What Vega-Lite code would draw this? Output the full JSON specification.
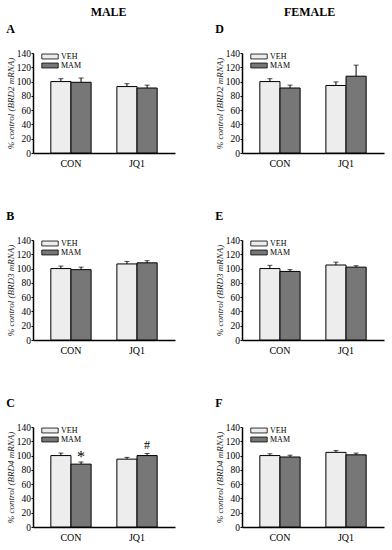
{
  "$schema": "https://vega.github.io/schema/vega-lite/v6.json",
  "padding": {"left": 6, "top": 6, "right": 2, "bottom": 2},
  "datasets": {
    "bars": [
      {"panel": "A", "group": "CON", "treat": "VEH", "value": 100, "hi": 104},
      {"panel": "A", "group": "CON", "treat": "MAM", "value": 99, "hi": 105},
      {"panel": "A", "group": "JQ1", "treat": "VEH", "value": 93, "hi": 97},
      {"panel": "A", "group": "JQ1", "treat": "MAM", "value": 91, "hi": 95},
      {"panel": "B", "group": "CON", "treat": "VEH", "value": 100, "hi": 103.5},
      {"panel": "B", "group": "CON", "treat": "MAM", "value": 98.5, "hi": 102},
      {"panel": "B", "group": "JQ1", "treat": "VEH", "value": 106.5, "hi": 110},
      {"panel": "B", "group": "JQ1", "treat": "MAM", "value": 108, "hi": 111},
      {"panel": "C", "group": "CON", "treat": "VEH", "value": 100, "hi": 103.5},
      {"panel": "C", "group": "CON", "treat": "MAM", "value": 88, "hi": 91},
      {"panel": "C", "group": "JQ1", "treat": "VEH", "value": 95, "hi": 97.5},
      {"panel": "C", "group": "JQ1", "treat": "MAM", "value": 100, "hi": 103},
      {"panel": "D", "group": "CON", "treat": "VEH", "value": 100, "hi": 104},
      {"panel": "D", "group": "CON", "treat": "MAM", "value": 91, "hi": 95},
      {"panel": "D", "group": "JQ1", "treat": "VEH", "value": 94.5, "hi": 99.5},
      {"panel": "D", "group": "JQ1", "treat": "MAM", "value": 107.5, "hi": 123},
      {"panel": "E", "group": "CON", "treat": "VEH", "value": 100, "hi": 104.5},
      {"panel": "E", "group": "CON", "treat": "MAM", "value": 96, "hi": 98.5},
      {"panel": "E", "group": "JQ1", "treat": "VEH", "value": 105, "hi": 109},
      {"panel": "E", "group": "JQ1", "treat": "MAM", "value": 102, "hi": 104},
      {"panel": "F", "group": "CON", "treat": "VEH", "value": 100, "hi": 102.5},
      {"panel": "F", "group": "CON", "treat": "MAM", "value": 98, "hi": 100.5},
      {"panel": "F", "group": "JQ1", "treat": "VEH", "value": 104.5, "hi": 107},
      {"panel": "F", "group": "JQ1", "treat": "MAM", "value": 101, "hi": 103.5}
    ],
    "sig": [
      {"panel": "C", "group": "CON", "treat": "MAM", "hi": 91, "label": "*"},
      {"panel": "C", "group": "JQ1", "treat": "MAM", "hi": 103, "label": "#"}
    ]
  },
  "config": {
    "font": "Liberation Serif",
    "view": {"stroke": null},
    "title": {"fontSize": 12, "fontWeight": "bold", "color": "black"},
    "axis": {"labelFont": "Liberation Serif", "titleFont": "Liberation Serif", "labelColor": "black", "domainColor": "black", "tickColor": "black", "grid": false, "domainWidth": 1.5},
    "axisY": {"tickSize": 2, "labelFontSize": 9.5, "labelPadding": 0.5, "titleFontSize": 9, "titleFontStyle": "italic", "titleFontWeight": "normal", "titleColor": "#222", "titlePadding": 1, "labelOverlap": false},
    "axisX": {"title": null, "labelAngle": 0, "ticks": false, "labelFontSize": 10, "labelPadding": 5},
    "legend": {"labelFont": "Liberation Serif", "title": null, "orient": "none", "legendX": 13, "legendY": -0.5, "symbolType": "M-3,-0.9H3V0.9H-3Z", "symbolSize": 30, "symbolStrokeColor": "black", "symbolStrokeWidth": 0.8, "labelFontSize": 8, "labelOffset": 7, "rowPadding": -2},
    "concat": {"spacing": 40}
  },
  "hconcat": [
    {
      "title": {"text": "MALE", "anchor": "middle", "dx": 18, "offset": 4},
      "spacing": 42,
      "resolve": {"legend": {"fill": "independent"}},
      "vconcat": [
        {
          "title": {"text": "A", "anchor": "start", "offset": 12},
          "width": 142, "height": 100,
          "data": {"name": "bars"},
          "transform": [{"filter": "datum.panel === 'A'"}],
          "encoding": {
            "x": {"field": "group", "type": "nominal", "scale": {"paddingInner": 0.39, "paddingOuter": 0.27}},
            "xOffset": {"field": "treat", "type": "nominal", "sort": ["VEH", "MAM"], "scale": {"paddingInner": 0, "paddingOuter": 0}},
            "y": {"field": "value", "type": "quantitative", "scale": {"domain": [0, 140], "nice": false}, "axis": {"title": "% control (BRD2 mRNA)", "values": [0, 20, 40, 60, 80, 100, 120, 140], "labelOverlap": false}}
          },
          "layer": [
            {"mark": {"type": "bar", "stroke": "black", "strokeWidth": 1},
             "encoding": {"fill": {"field": "treat", "type": "nominal", "sort": ["VEH", "MAM"], "scale": {"domain": ["VEH", "MAM"], "range": ["#ededed", "#777777"]}}}},
            {"mark": {"type": "rule", "color": "black", "strokeWidth": 1}, "encoding": {"y2": {"field": "hi"}}},
            {"mark": {"type": "tick", "color": "black", "size": 5, "thickness": 1}, "encoding": {"y": {"field": "hi", "type": "quantitative"}}}
          ]
        },
        {
          "title": {"text": "B", "anchor": "start", "offset": 12},
          "width": 142, "height": 100,
          "data": {"name": "bars"},
          "transform": [{"filter": "datum.panel === 'B'"}],
          "encoding": {
            "x": {"field": "group", "type": "nominal", "scale": {"paddingInner": 0.39, "paddingOuter": 0.27}},
            "xOffset": {"field": "treat", "type": "nominal", "sort": ["VEH", "MAM"], "scale": {"paddingInner": 0, "paddingOuter": 0}},
            "y": {"field": "value", "type": "quantitative", "scale": {"domain": [0, 140], "nice": false}, "axis": {"title": "% control (BRD3 mRNA)", "values": [0, 20, 40, 60, 80, 100, 120, 140], "labelOverlap": false}}
          },
          "layer": [
            {"mark": {"type": "bar", "stroke": "black", "strokeWidth": 1},
             "encoding": {"fill": {"field": "treat", "type": "nominal", "sort": ["VEH", "MAM"], "scale": {"domain": ["VEH", "MAM"], "range": ["#ededed", "#777777"]}}}},
            {"mark": {"type": "rule", "color": "black", "strokeWidth": 1}, "encoding": {"y2": {"field": "hi"}}},
            {"mark": {"type": "tick", "color": "black", "size": 5, "thickness": 1}, "encoding": {"y": {"field": "hi", "type": "quantitative"}}}
          ]
        },
        {
          "title": {"text": "C", "anchor": "start", "offset": 12},
          "width": 142, "height": 100,
          "encoding": {
            "x": {"field": "group", "type": "nominal", "scale": {"paddingInner": 0.39, "paddingOuter": 0.27}},
            "xOffset": {"field": "treat", "type": "nominal", "sort": ["VEH", "MAM"], "scale": {"domain": ["VEH", "MAM"], "paddingInner": 0, "paddingOuter": 0}},
            "y": {"field": "value", "type": "quantitative", "scale": {"domain": [0, 140], "nice": false}, "axis": {"title": "% control (BRD4 mRNA)", "values": [0, 20, 40, 60, 80, 100, 120, 140], "labelOverlap": false}}
          },
          "layer": [
            {"data": {"name": "bars"}, "transform": [{"filter": "datum.panel === 'C'"}], "mark": {"type": "bar", "stroke": "black", "strokeWidth": 1},
             "encoding": {"fill": {"field": "treat", "type": "nominal", "sort": ["VEH", "MAM"], "scale": {"domain": ["VEH", "MAM"], "range": ["#ededed", "#777777"]}}}},
            {"data": {"name": "bars"}, "transform": [{"filter": "datum.panel === 'C'"}], "mark": {"type": "rule", "color": "black", "strokeWidth": 1}, "encoding": {"y2": {"field": "hi"}}},
            {"data": {"name": "bars"}, "transform": [{"filter": "datum.panel === 'C'"}], "mark": {"type": "tick", "color": "black", "size": 5, "thickness": 1}, "encoding": {"y": {"field": "hi", "type": "quantitative"}}},
            {"data": {"name": "sig"}, "transform": [{"filter": "datum.label === '*'"}], "mark": {"type": "text", "fontSize": 16, "baseline": "alphabetic", "dy": 0, "fill": "black"}, "encoding": {"y": {"field": "hi", "type": "quantitative"}, "text": {"field": "label"}}},
            {"data": {"name": "sig"}, "transform": [{"filter": "datum.label === '#'"}], "mark": {"type": "text", "fontSize": 12, "baseline": "alphabetic", "dy": -4, "fill": "black"}, "encoding": {"y": {"field": "hi", "type": "quantitative"}, "text": {"field": "label"}}}
          ]
        }
      ]
    },
    {
      "title": {"text": "FEMALE", "anchor": "middle", "dx": 10, "offset": 4},
      "spacing": 42,
      "resolve": {"legend": {"fill": "independent"}},
      "vconcat": [
        {
          "title": {"text": "D", "anchor": "start", "offset": 12},
          "width": 142, "height": 100,
          "data": {"name": "bars"},
          "transform": [{"filter": "datum.panel === 'D'"}],
          "encoding": {
            "x": {"field": "group", "type": "nominal", "scale": {"paddingInner": 0.39, "paddingOuter": 0.27}},
            "xOffset": {"field": "treat", "type": "nominal", "sort": ["VEH", "MAM"], "scale": {"paddingInner": 0, "paddingOuter": 0}},
            "y": {"field": "value", "type": "quantitative", "scale": {"domain": [0, 140], "nice": false}, "axis": {"title": "% control (BRD2 mRNA)", "values": [0, 20, 40, 60, 80, 100, 120, 140], "labelOverlap": false}}
          },
          "layer": [
            {"mark": {"type": "bar", "stroke": "black", "strokeWidth": 1},
             "encoding": {"fill": {"field": "treat", "type": "nominal", "sort": ["VEH", "MAM"], "scale": {"domain": ["VEH", "MAM"], "range": ["#ededed", "#777777"]}}}},
            {"mark": {"type": "rule", "color": "black", "strokeWidth": 1}, "encoding": {"y2": {"field": "hi"}}},
            {"mark": {"type": "tick", "color": "black", "size": 5, "thickness": 1}, "encoding": {"y": {"field": "hi", "type": "quantitative"}}}
          ]
        },
        {
          "title": {"text": "E", "anchor": "start", "offset": 12},
          "width": 142, "height": 100,
          "data": {"name": "bars"},
          "transform": [{"filter": "datum.panel === 'E'"}],
          "encoding": {
            "x": {"field": "group", "type": "nominal", "scale": {"paddingInner": 0.39, "paddingOuter": 0.27}},
            "xOffset": {"field": "treat", "type": "nominal", "sort": ["VEH", "MAM"], "scale": {"paddingInner": 0, "paddingOuter": 0}},
            "y": {"field": "value", "type": "quantitative", "scale": {"domain": [0, 140], "nice": false}, "axis": {"title": "% control (BRD3 mRNA)", "values": [0, 20, 40, 60, 80, 100, 120, 140], "labelOverlap": false}}
          },
          "layer": [
            {"mark": {"type": "bar", "stroke": "black", "strokeWidth": 1},
             "encoding": {"fill": {"field": "treat", "type": "nominal", "sort": ["VEH", "MAM"], "scale": {"domain": ["VEH", "MAM"], "range": ["#ededed", "#777777"]}}}},
            {"mark": {"type": "rule", "color": "black", "strokeWidth": 1}, "encoding": {"y2": {"field": "hi"}}},
            {"mark": {"type": "tick", "color": "black", "size": 5, "thickness": 1}, "encoding": {"y": {"field": "hi", "type": "quantitative"}}}
          ]
        },
        {
          "title": {"text": "F", "anchor": "start", "offset": 12},
          "width": 142, "height": 100,
          "data": {"name": "bars"},
          "transform": [{"filter": "datum.panel === 'F'"}],
          "encoding": {
            "x": {"field": "group", "type": "nominal", "scale": {"paddingInner": 0.39, "paddingOuter": 0.27}},
            "xOffset": {"field": "treat", "type": "nominal", "sort": ["VEH", "MAM"], "scale": {"paddingInner": 0, "paddingOuter": 0}},
            "y": {"field": "value", "type": "quantitative", "scale": {"domain": [0, 140], "nice": false}, "axis": {"title": "% control (BRD4 mRNA)", "values": [0, 20, 40, 60, 80, 100, 120, 140], "labelOverlap": false}}
          },
          "layer": [
            {"mark": {"type": "bar", "stroke": "black", "strokeWidth": 1},
             "encoding": {"fill": {"field": "treat", "type": "nominal", "sort": ["VEH", "MAM"], "scale": {"domain": ["VEH", "MAM"], "range": ["#ededed", "#777777"]}}}},
            {"mark": {"type": "rule", "color": "black", "strokeWidth": 1}, "encoding": {"y2": {"field": "hi"}}},
            {"mark": {"type": "tick", "color": "black", "size": 5, "thickness": 1}, "encoding": {"y": {"field": "hi", "type": "quantitative"}}}
          ]
        }
      ]
    }
  ]
}
